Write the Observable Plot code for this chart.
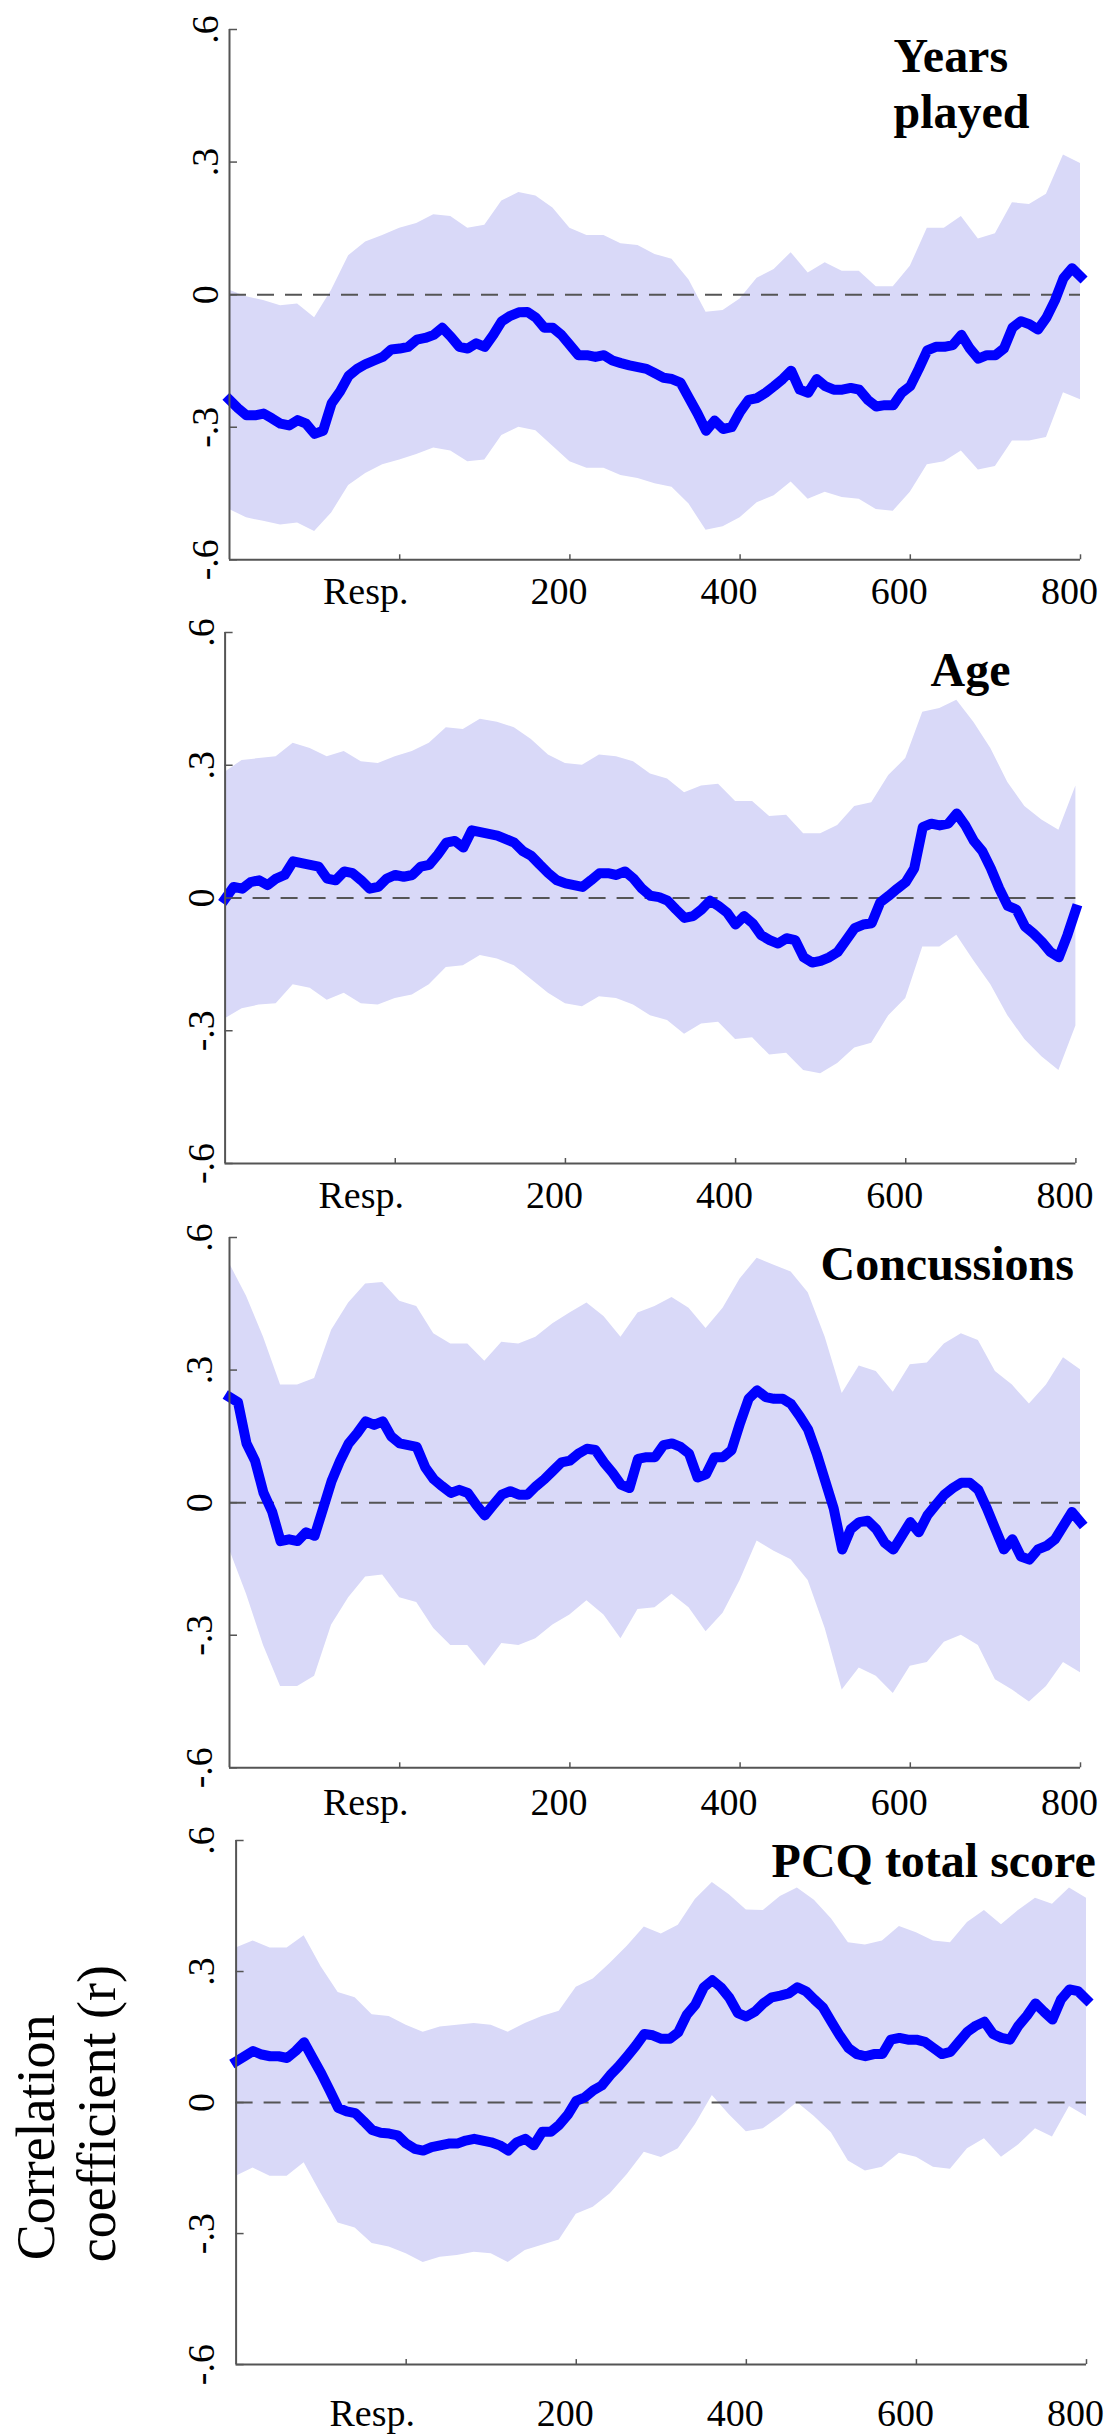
<!DOCTYPE html>
<html>
<head>
<meta charset="utf-8">
<script src="https://cdn.jsdelivr.net/npm/d3@7"></script>
<script src="https://cdn.jsdelivr.net/npm/@observablehq/plot@0.6"></script>
<style>
  html, body { margin: 0; padding: 0; background: #fff; overflow: hidden; }
  #root { position: relative; width: 1119px; height: 2435px; background: #fff; }
  #root svg { position: absolute; left: 0; }
</style>
</head>
<body>
<div id="root"></div>
<script>
// Respondent positions of sampled points ("Resp." tick = 0)
const resp = [-200,-180,-160,-140,-120,-100,-80,-60,-40,-20,0,20,40,60,80,100,120,140,160,180,200,220,240,260,280,300,320,340,360,380,400,420,440,460,480,500,520,540,560,580,600,620,640,660,680,700,720,740,760,780,800];
const respFine = [-200,-190,-180,-170,-160,-150,-140,-130,-120,-110,-100,-90,-80,-70,-60,-50,-40,-30,-20,-10,0,10,20,30,40,50,60,70,80,90,100,110,120,130,140,150,160,170,180,190,200,210,220,230,240,250,260,270,280,290,300,310,320,330,340,350,360,370,380,390,400,410,420,430,440,450,460,470,480,490,500,510,520,530,540,550,560,570,580,590,600,610,620,630,640,650,660,670,680,690,700,710,720,730,740,750,760,770,780,790,800];

const xTicks = [0, 200, 400, 600, 800];
const xTickLabels = ["Resp.", "200", "400", "600", "800"];
const yTicks = [-0.6, -0.3, 0, 0.3, 0.6];
const yTickLabels = ["-.6", "-.3", "0", ".3", ".6"];

// Years played (r on respFine, CI bounds on resp)
const yearsR  = [-0.238,-0.257,-0.273,-0.273,-0.269,-0.280,-0.292,-0.296,-0.284,-0.292,-0.315,-0.308,-0.246,-0.219,-0.184,-0.168,-0.157,-0.149,-0.141,-0.124,-0.122,-0.118,-0.102,-0.098,-0.091,-0.075,-0.095,-0.118,-0.122,-0.110,-0.118,-0.091,-0.060,-0.048,-0.040,-0.039,-0.052,-0.075,-0.075,-0.091,-0.114,-0.137,-0.137,-0.141,-0.137,-0.149,-0.155,-0.160,-0.164,-0.168,-0.178,-0.188,-0.191,-0.199,-0.234,-0.269,-0.308,-0.285,-0.304,-0.300,-0.265,-0.238,-0.234,-0.222,-0.207,-0.191,-0.172,-0.215,-0.222,-0.191,-0.207,-0.215,-0.215,-0.211,-0.215,-0.238,-0.253,-0.250,-0.250,-0.222,-0.207,-0.168,-0.126,-0.118,-0.118,-0.114,-0.091,-0.122,-0.145,-0.137,-0.137,-0.122,-0.075,-0.060,-0.067,-0.079,-0.052,-0.013,0.037,0.060,0.041];
const yearsHi = [0.010,-0.005,-0.013,-0.025,-0.021,-0.052,0.010,0.088,0.119,0.134,0.150,0.161,0.181,0.177,0.150,0.157,0.212,0.231,0.223,0.196,0.150,0.134,0.134,0.115,0.111,0.091,0.080,0.033,-0.040,-0.036,-0.010,0.037,0.057,0.095,0.049,0.072,0.053,0.053,0.018,0.018,0.064,0.150,0.150,0.177,0.126,0.138,0.208,0.204,0.227,0.316,0.297];
const yearsLo = [-0.486,-0.505,-0.513,-0.521,-0.517,-0.536,-0.494,-0.432,-0.405,-0.385,-0.374,-0.362,-0.347,-0.354,-0.378,-0.374,-0.319,-0.300,-0.308,-0.343,-0.378,-0.393,-0.393,-0.409,-0.416,-0.428,-0.436,-0.474,-0.533,-0.525,-0.505,-0.471,-0.455,-0.424,-0.463,-0.447,-0.459,-0.463,-0.486,-0.490,-0.447,-0.385,-0.378,-0.354,-0.397,-0.389,-0.331,-0.331,-0.323,-0.222,-0.238];

// Age
const ageR  = [-0.002,0.025,0.021,0.036,0.040,0.029,0.044,0.052,0.083,0.079,0.075,0.071,0.044,0.040,0.060,0.056,0.040,0.021,0.025,0.044,0.052,0.048,0.052,0.071,0.075,0.098,0.125,0.129,0.114,0.153,0.149,0.145,0.141,0.133,0.125,0.106,0.095,0.075,0.056,0.040,0.033,0.029,0.025,0.040,0.056,0.056,0.052,0.060,0.044,0.021,0.005,0.002,-0.006,-0.026,-0.045,-0.041,-0.026,-0.006,-0.018,-0.033,-0.060,-0.041,-0.057,-0.084,-0.095,-0.103,-0.091,-0.095,-0.134,-0.146,-0.142,-0.134,-0.122,-0.095,-0.068,-0.060,-0.057,-0.010,0.005,0.021,0.036,0.067,0.160,0.168,0.164,0.168,0.191,0.164,0.129,0.106,0.067,0.021,-0.018,-0.026,-0.064,-0.080,-0.099,-0.122,-0.134,-0.084,-0.026];
const ageHi = [0.284,0.311,0.315,0.319,0.350,0.338,0.319,0.331,0.308,0.304,0.319,0.331,0.350,0.385,0.381,0.404,0.397,0.385,0.358,0.323,0.304,0.300,0.323,0.319,0.308,0.280,0.269,0.238,0.253,0.257,0.218,0.218,0.184,0.187,0.145,0.145,0.164,0.207,0.215,0.277,0.315,0.420,0.428,0.447,0.397,0.338,0.261,0.207,0.176,0.153,0.253];
const ageLo = [-0.273,-0.250,-0.242,-0.239,-0.196,-0.204,-0.231,-0.215,-0.239,-0.242,-0.227,-0.219,-0.196,-0.157,-0.153,-0.130,-0.138,-0.153,-0.184,-0.215,-0.239,-0.246,-0.223,-0.227,-0.242,-0.266,-0.277,-0.308,-0.285,-0.281,-0.320,-0.316,-0.355,-0.351,-0.390,-0.397,-0.374,-0.339,-0.328,-0.266,-0.227,-0.111,-0.111,-0.084,-0.142,-0.196,-0.266,-0.320,-0.359,-0.390,-0.289];

// Concussions
const concR  = [0.239,0.227,0.134,0.095,0.022,-0.020,-0.087,-0.083,-0.087,-0.067,-0.075,-0.013,0.049,0.095,0.134,0.157,0.184,0.176,0.184,0.150,0.134,0.130,0.126,0.080,0.053,0.037,0.022,0.029,0.022,-0.005,-0.029,-0.005,0.018,0.026,0.018,0.018,0.037,0.053,0.072,0.091,0.095,0.111,0.122,0.119,0.091,0.068,0.041,0.033,0.099,0.103,0.103,0.130,0.134,0.126,0.111,0.057,0.064,0.103,0.103,0.119,0.180,0.235,0.254,0.239,0.235,0.235,0.223,0.196,0.165,0.111,0.049,-0.013,-0.106,-0.060,-0.044,-0.041,-0.060,-0.091,-0.106,-0.075,-0.044,-0.067,-0.029,-0.005,0.018,0.033,0.045,0.045,0.029,-0.013,-0.060,-0.106,-0.083,-0.122,-0.129,-0.106,-0.098,-0.083,-0.052,-0.021,-0.044];
const concHi = [0.541,0.467,0.374,0.266,0.266,0.281,0.390,0.452,0.495,0.498,0.456,0.444,0.382,0.359,0.359,0.320,0.363,0.359,0.374,0.405,0.429,0.452,0.421,0.374,0.429,0.444,0.464,0.440,0.394,0.440,0.506,0.553,0.537,0.522,0.475,0.374,0.247,0.309,0.297,0.250,0.312,0.316,0.359,0.382,0.367,0.297,0.266,0.223,0.266,0.328,0.301];
const concLo = [-0.106,-0.207,-0.323,-0.416,-0.416,-0.393,-0.277,-0.215,-0.168,-0.164,-0.215,-0.226,-0.285,-0.323,-0.323,-0.370,-0.319,-0.323,-0.308,-0.277,-0.254,-0.222,-0.254,-0.308,-0.242,-0.238,-0.207,-0.238,-0.292,-0.250,-0.176,-0.087,-0.110,-0.129,-0.176,-0.285,-0.424,-0.374,-0.393,-0.432,-0.370,-0.362,-0.316,-0.300,-0.323,-0.401,-0.424,-0.451,-0.416,-0.362,-0.385];

// PCQ total score
const pcqR  = [0.094,0.106,0.118,0.110,0.106,0.106,0.102,0.118,0.138,0.102,0.067,0.028,-0.012,-0.020,-0.024,-0.043,-0.063,-0.069,-0.071,-0.075,-0.094,-0.106,-0.110,-0.102,-0.098,-0.094,-0.094,-0.087,-0.083,-0.087,-0.091,-0.098,-0.110,-0.091,-0.083,-0.098,-0.067,-0.067,-0.051,-0.028,0.004,0.012,0.028,0.039,0.063,0.083,0.106,0.130,0.157,0.154,0.146,0.146,0.161,0.201,0.224,0.264,0.280,0.264,0.240,0.205,0.197,0.208,0.227,0.241,0.245,0.250,0.264,0.255,0.236,0.218,0.185,0.153,0.125,0.111,0.106,0.111,0.111,0.144,0.148,0.144,0.144,0.139,0.125,0.111,0.116,0.139,0.162,0.176,0.185,0.157,0.148,0.144,0.176,0.199,0.227,0.208,0.190,0.236,0.259,0.255,0.236];
const pcqHi = [0.354,0.370,0.354,0.354,0.382,0.311,0.252,0.240,0.201,0.197,0.177,0.161,0.173,0.177,0.181,0.177,0.161,0.181,0.197,0.209,0.264,0.283,0.319,0.358,0.402,0.386,0.406,0.465,0.504,0.476,0.441,0.440,0.472,0.491,0.463,0.421,0.366,0.361,0.370,0.403,0.389,0.370,0.366,0.412,0.440,0.407,0.440,0.468,0.454,0.491,0.468];
const pcqLo = [-0.169,-0.150,-0.169,-0.169,-0.138,-0.209,-0.276,-0.287,-0.323,-0.331,-0.346,-0.366,-0.354,-0.350,-0.343,-0.346,-0.366,-0.339,-0.327,-0.315,-0.256,-0.240,-0.209,-0.165,-0.114,-0.126,-0.106,-0.051,0.016,-0.028,-0.067,-0.060,-0.032,0.000,-0.032,-0.069,-0.134,-0.157,-0.148,-0.116,-0.125,-0.148,-0.153,-0.106,-0.083,-0.125,-0.097,-0.060,-0.079,-0.009,-0.032];

const FONT = "'Liberation Serif', 'Times New Roman', Times, serif";
const AXIS = "#555";

const panels = [
  { title: ["Years", "played"], titleDy: [42.2, 98.3], titleDx: 664,
    r: yearsR, hi: yearsHi, lo: yearsLo,
    box: { left: 229, right: 1080, top: 29.2, bottom: 559.5 }, yLabDx: -12, xLabDy: 44 },
  { title: ["Age"], titleDy: [53], titleDx: 705.5,
    r: ageR, hi: ageHi, lo: ageLo,
    box: { left: 224.6, right: 1075.4, top: 632.2, bottom: 1163.2 }, yLabDx: -11, xLabDy: 44.5 },
  { title: ["Concussions"], titleDy: [42.5], titleDx: 591,
    r: concR, hi: concHi, lo: concLo,
    box: { left: 229, right: 1080, top: 1237.2, bottom: 1767.5 }, yLabDx: -18, xLabDy: 47.5 },
  { title: ["PCQ total score"], titleDy: [37], titleDx: 535.5,
    r: pcqR, hi: pcqHi, lo: pcqLo,
    box: { left: 235.6, right: 1086, top: 1840.2, bottom: 2364.3 }, yLabDx: -22, xLabDy: 61.5,
    yTitle: true }
];

const root = document.getElementById("root");

for (const p of panels) {
  const band = resp.map((x, i) => ({ x, lo: p.lo[i], hi: p.hi[i] }));
  const line = respFine.map((x, i) => ({ x, r: p.r[i] }));
  const mt = 20, mb = 90;
  const fw = p.box.right - p.box.left;
  const fh = p.box.bottom - p.box.top;

  const marks = [
    Plot.areaY(band, { x: "x", y1: "lo", y2: "hi", fill: "#d9d9f8" }),
    Plot.ruleY([0], { stroke: AXIS, strokeWidth: 2, strokeDasharray: "17 11" }),
    Plot.line(line, { x: "x", y: "r", stroke: "#0000ff", strokeWidth: 10, strokeLinejoin: "round", strokeLinecap: "square" }),
    Plot.ruleX([-200], { stroke: AXIS, strokeWidth: 2 }),
    Plot.ruleY([-0.6], { stroke: AXIS, strokeWidth: 2 }),
    Plot.tickY(yTicks, { y: d => d, stroke: AXIS, strokeWidth: 1.5, insetRight: fw - 8 }),
    Plot.tickX(xTicks, { x: d => d, stroke: AXIS, strokeWidth: 1.5, insetTop: fh - 5 }),
    Plot.text(yTicks, { y: d => d, text: (d, i) => yTickLabels[i], frameAnchor: "left", dx: p.yLabDx,
      rotate: -90, textAnchor: "middle", lineAnchor: "bottom", fontSize: 38, fontFamily: FONT, fill: "#000" }),
    Plot.text([xTicks[0]], { x: d => d, text: () => xTickLabels[0], frameAnchor: "bottom", dy: p.xLabDy, dx: -34,
      textAnchor: "middle", lineAnchor: "bottom", fontSize: 38, fontFamily: FONT, fill: "#000" }),
    Plot.text(xTicks.slice(1), { x: d => d, text: (d, i) => xTickLabels[i + 1], frameAnchor: "bottom", dy: p.xLabDy, dx: -11,
      textAnchor: "middle", lineAnchor: "bottom", fontSize: 38, fontFamily: FONT, fill: "#000" })
  ];

  p.title.forEach((t, i) => {
    marks.push(Plot.text([t], { text: d => d, frameAnchor: "top-left", dx: p.titleDx, dy: p.titleDy[i],
      textAnchor: "start", lineAnchor: "bottom", fontSize: 48, fontWeight: "bold", fontFamily: FONT, fill: "#000" }));
  });

  if (p.yTitle) {
    marks.push(Plot.text(["Correlation"], { text: d => d, frameAnchor: "top-left", dx: 53 - p.box.left, dy: 2260 - p.box.top,
      rotate: -90, textAnchor: "start", lineAnchor: "bottom", fontSize: 54, fontFamily: FONT, fill: "#000" }));
    marks.push(Plot.text(["coefficient (r)"], { text: d => d, frameAnchor: "top-left", dx: 114 - p.box.left, dy: 2262 - p.box.top,
      rotate: -90, textAnchor: "start", lineAnchor: "bottom", fontSize: 54, fontFamily: FONT, fill: "#000" }));
  }

  const svg = Plot.plot({
    width: 1119,
    height: fh + mt + mb,
    marginTop: mt,
    marginBottom: mb,
    marginLeft: p.box.left,
    marginRight: 1119 - p.box.right,
    x: { domain: [-200, 800], axis: null },
    y: { domain: [-0.6, 0.6], axis: null },
    style: { fontFamily: FONT, background: "transparent", overflow: "visible" },
    marks
  });
  svg.style.top = (p.box.top - mt) + "px";
  root.appendChild(svg);
}
</script>
</body>
</html>
